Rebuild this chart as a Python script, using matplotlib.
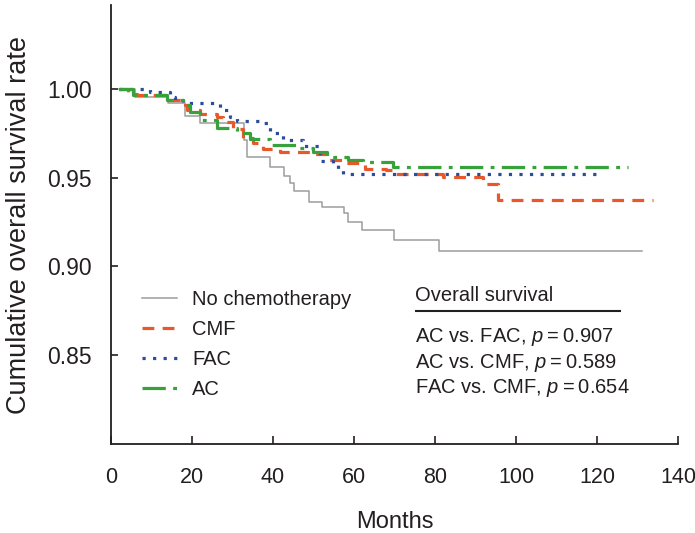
import matplotlib
matplotlib.use("Agg")
import matplotlib.pyplot as plt

plt.rcParams['font.family'] = ['Liberation Sans', 'DejaVu Sans']
plt.rcParams['mathtext.fontset'] = 'custom'
plt.rcParams['mathtext.rm'] = 'Liberation Sans'
plt.rcParams['mathtext.it'] = 'Liberation Sans:italic'

# ---- data (Kaplan-Meier step points) ----
nochemo_t = [2, 6, 14, 18.3, 22, 32.9, 33.6, 39.3, 42.6, 44.3, 45.1, 48.8, 52.1, 57.5, 58.5, 62, 69.8, 81, 131]
nochemo_s = [1.0, 0.9958, 0.9924, 0.9848, 0.981, 0.9716, 0.9616, 0.9564, 0.9511, 0.947, 0.9427, 0.9365,
             0.9337, 0.93, 0.9252, 0.9205, 0.915, 0.9085, 0.9085]

cmf_t = [2, 4.2, 6.4, 13.9, 18.3, 18.8, 22.0, 26.2, 27.7, 30.2, 32.6, 35.1, 37.6, 41.8, 49.2, 53.4,
         57.9, 62.8, 67.8, 70.2, 82.1, 91.8, 95.5, 133.8]
cmf_s = [1.0, 0.9977, 0.9968, 0.9943, 0.9911, 0.9883, 0.9864, 0.9845, 0.9817, 0.9779, 0.9723, 0.9695,
         0.9666, 0.9645, 0.9638, 0.960, 0.9583, 0.9553, 0.9544, 0.9525, 0.9506, 0.9468, 0.9378, 0.9378]

fac_t = [2, 9.6, 14.6, 15.8, 17.8, 27.0, 29.4, 31.2, 37.6, 39.3, 42.5, 47.5, 51.7, 54.9, 56.0, 57.4, 121.4]
fac_s = [1.0, 0.9986, 0.996, 0.994, 0.9921, 0.9883, 0.9843, 0.9821, 0.9808, 0.9753, 0.9713, 0.9679,
         0.9596, 0.9572, 0.955, 0.9525, 0.9525]

ac_t = [2, 5.4, 13.9, 17.8, 19.5, 22.0, 26.2, 31.2, 34.4, 39.3, 46.0, 50.0, 53.4, 58.4, 62.3, 69.7, 127.6]
ac_s = [1.0, 0.9968, 0.994, 0.991, 0.9872, 0.9826, 0.978, 0.9753, 0.9719, 0.9685, 0.9668, 0.9645,
        0.9619, 0.960, 0.959, 0.9562, 0.9562]

labels = ["No chemotherapy", "CMF", "FAC", "AC"]
x_ticks = [0, 20, 40, 60, 80, 100, 120, 140]
y_ticks = [0.85, 0.90, 0.95, 1.00]
y_ticklabels = ["0.85", "0.90", "0.95", "1.00"]
stats_title = "Overall survival"
stats_lines = ["AC vs. FAC, $p$\u2009=\u20090.907",
               "AC vs. CMF, $p$\u2009=\u20090.589",
               "FAC vs. CMF, $p$\u2009=\u20090.654"]

# ---- figure ----
fig = plt.figure(figsize=(6.95, 5.33), dpi=100)
ax = fig.add_axes([0.1597, 0.1664, 0.8158, 0.8242])

ax.step(nochemo_t, nochemo_s, where='post', color='#9c9c9c', lw=1.1, label=labels[0])
ax.step(cmf_t, cmf_s, where='post', color='#e8582a', lw=2.3, ls=(0, (3.7, 2.6)), label=labels[1])
ax.step(fac_t, fac_s, where='post', color='#2a4c9e', lw=2.3, ls=(0, (1, 2.3)), label=labels[2])
ax.step(ac_t, ac_s, where='post', color='#37a23c', lw=2.3, ls=(0, (7.3, 2.3, 1.2, 2.3)), label=labels[3])

ax.set_xlim(0, 140)
ax.set_ylim(0.7995, 1.0477)
ax.set_xticks(x_ticks)
ax.set_yticks(y_ticks)
ax.set_yticklabels(y_ticklabels)

for s in ['top', 'right']:
    ax.spines[s].set_visible(False)
for s in ['left', 'bottom']:
    ax.spines[s].set_color('#231f20')
    ax.spines[s].set_linewidth(1.3)

ax.tick_params(axis='x', direction='in', length=6, width=1.2, color='#231f20',
               labelsize=15.5, pad=16, labelcolor='#231f20')
ax.tick_params(axis='y', direction='in', length=5, width=1.2, color='#231f20',
               labelsize=16.5, pad=14, labelcolor='#231f20')

ax.set_xlabel("Months", fontsize=17, color='#231f20', labelpad=17)
ax.set_ylabel("Cumulative overall survival rate", fontsize=19.5, color='#231f20', labelpad=11)

leg = ax.legend(loc='upper left', bbox_to_anchor=(0.04, 0.37), frameon=False,
                fontsize=14.5, handlelength=1.75, handletextpad=0.75, labelspacing=0.55,
                borderaxespad=0)
for t in leg.get_texts():
    t.set_color('#231f20')

# statistics text block
ax.text(75.1, 0.8837, stats_title, fontsize=14.5, color='#231f20', va='center', ha='left')
ax.plot([75.1, 126.0], [0.8746, 0.8746], color='#231f20', lw=1.5, solid_capstyle='butt')
for yv, line in zip([0.8599, 0.8457, 0.8311], stats_lines):
    ax.text(75.1, yv, line, fontsize=14.5, color='#231f20', va='center', ha='left')

fig.savefig("out.png", dpi=100)
